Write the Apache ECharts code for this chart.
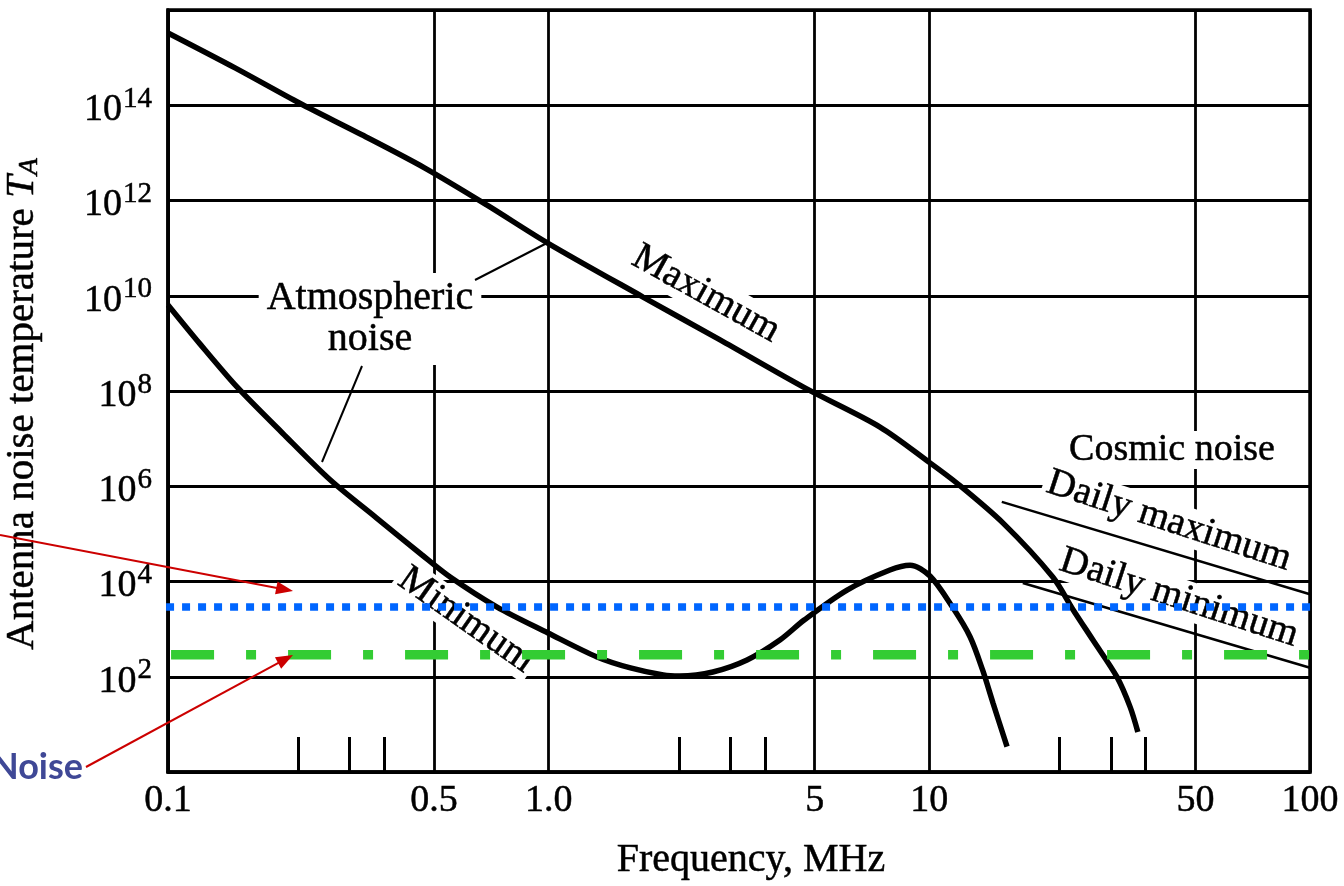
<!DOCTYPE html>
<html><head><meta charset="utf-8">
<script src="https://cdn.jsdelivr.net/npm/echarts@6/dist/echarts.min.js"></script>
<style>html,body{margin:0;padding:0;background:#fff}#c{width:1344px;height:886px}</style>
</head><body><div id="c"></div>
<script>
// ---- axis ticks ----
const xTickValues = [0.1, 0.5, 1, 5, 10, 50, 100];
const xTickLabels = ['0.1', '0.5', '1.0', '5', '10', '50', '100'];
const xMinorTicks = [0.22, 0.3, 0.37, 2.2, 3, 3.7, 22, 30, 37];
const yGridValues = [1, 1e2, 1e4, 1e6, 1e8, 1e10, 1e12, 1e14, 1e16];
const yLabelValues = [1e2, 1e4, 1e6, 1e8, 1e10, 1e12, 1e14];

// ---- atmospheric noise, maximum ----
const atmMaxFreq = [0.1, 0.150, 0.222, 0.323, 0.473, 0.689, 0.994, 1.77, 2.82, 4.71, 7.42, 10.04, 11.8, 15.6, 21.1, 23.9, 26.9, 31.1, 33.7, 35.3];
const atmMaxTemp = [3.3e15, 6.1e14, 1.1e14, 2.4e13, 4.8e12, 8.0e11, 1.28e11, 9.4e9, 1.18e9, 1.16e8, 1.75e7, 3.1e6, 1.17e6, 1.7e5, 1.24e4, 2.5e3, 590, 99, 23, 6.9];

// ---- atmospheric noise, minimum ----
const atmMinFreq = [0.1, 0.121, 0.152, 0.200, 0.267, 0.352, 0.465, 0.551, 0.732, 0.996, 1.34, 1.64, 2.0, 2.21, 2.70, 3.32, 4.05, 4.69, 6.08, 7.88, 8.9, 10.04, 11.5, 12.8, 13.8, 14.7, 16.0];
const atmMinTemp = [6.4e9, 1.0e9, 1.2e8, 1.3e7, 1.35e6, 2.2e5, 3.6e4, 1.24e4, 2.9e3, 830, 260, 153, 109, 104, 126, 225, 590, 1.55e3, 6.6e3, 1.74e4, 2.2e4, 1.3e4, 2.9e3, 684, 139, 28, 3.4];

// ---- cosmic noise ----
const cosmicMaxFreq = [15.5, 100];
const cosmicMaxTemp = [4.7e5, 5.4e3];
const cosmicMinFreq = [17.6, 100];
const cosmicMinTemp = [9.3e3, 155];

// ---- reference levels (overlays) ----
const blueFreq = [0.0502, 122.8];
const blueTemp = [2900, 2900];
const greenFreq = [0.0502, 101.8];
const greenTemp = [290, 290];

const pairs = (xs, ys) => xs.map((x, i) => [x, ys[i]]);
const SERIF = '"Liberation Serif", "Times New Roman", serif';
const INK = { textBorderColor: '#000', textBorderWidth: 0.5 };

function arrow(x1, y1, x2, y2, color) {
  const dx = x2 - x1, dy = y2 - y1, L = Math.hypot(dx, dy);
  const ux = dx / L, uy = dy / L, hl = 17, hw = 6.5;
  const bx = x2 - ux * hl, by = y2 - uy * hl;
  return [
    { type: 'line', z: 20, silent: true, shape: { x1, y1, x2: bx + ux * 2, y2: by + uy * 2 }, style: { stroke: color, lineWidth: 2 } },
    { type: 'polygon', z: 20, silent: true, shape: { points: [[x2, y2], [bx - uy * hw, by + ux * hw], [bx + uy * hw, by - ux * hw]] }, style: { fill: color } }
  ];
}
function label(text, x, y, rotDeg, size) {
  return {
    type: 'text', x, y, rotation: rotDeg * Math.PI / 180, z: 1, silent: true,
    style: Object.assign({
      text, font: (size || 38) + 'px ' + SERIF, fill: '#000',
      align: 'center', verticalAlign: 'middle', textAlign: 'center', textVerticalAlign: 'middle',
      backgroundColor: '#fff', padding: [0, 4]
    }, { stroke: '#000', lineWidth: 0.5 })
  };
}
function leader(x1, y1, x2, y2) {
  return { type: 'line', z: 1, silent: true, shape: { x1, y1, x2, y2 }, style: { stroke: '#000', lineWidth: 2 } };
}

const chart = echarts.init(document.getElementById('c'));
const nearestLabel = v => {
  let best = 0, bd = Infinity;
  xTickValues.forEach((t, i) => { const d = Math.abs(Math.log10(t) - Math.log10(v)); if (d < bd) { bd = d; best = i; } });
  return xTickLabels[best];
};

const atmText = label('Atmospheric\nnoise', 370, 319, 0, 40);
atmText.style.lineHeight = 41;
atmText.style.padding = [2, 8, 8, 8];

chart.setOption({
  animation: false,
  backgroundColor: '#fff',
  grid: { left: 168, right: 34, top: 10, bottom: 114, containLabel: false, outerBoundsMode: 'none', show: true, borderColor: '#000', borderWidth: 3.5, backgroundColor: 'transparent' },
  xAxis: [{
    type: 'log', min: 0.1, max: 100, position: 'bottom',
    name: 'Frequency, MHz', nameLocation: 'middle', nameGap: 68,
    nameTextStyle: Object.assign({ fontFamily: SERIF, fontSize: 40, color: '#000', padding: [0, 0, 0, 24] }, INK),
    axisLine: { show: true, lineStyle: { color: '#000', width: 3.5 } },
    axisTick: { show: false, customValues: xTickValues },
    axisLabel: Object.assign({ customValues: xTickValues, formatter: nearestLabel, fontFamily: SERIF, fontSize: 38, color: '#000', margin: 10 }, INK),
    splitLine: { show: true, lineStyle: { color: '#000', width: 2.8 } },
    minorTick: { show: false }, minorSplitLine: { show: false }
  }, {
    type: 'log', min: 0.1, max: 100, position: 'bottom',
    axisLine: { show: false },
    axisTick: { show: true, inside: true, length: 35, customValues: xMinorTicks, lineStyle: { color: '#000', width: 3 } },
    axisLabel: { show: false },
    splitLine: { show: false }
  }],
  yAxis: {
    type: 'log', min: 1, max: 1e16,
    name: '{a|Antenna noise temperature }{t|T}{s|A}', nameLocation: 'middle', nameGap: 124,
    nameTextStyle: {
      color: '#000', padding: [0, 26, 0, 0],
      rich: {
        a: Object.assign({ fontFamily: SERIF, fontSize: 41, color: '#000' }, INK),
        t: Object.assign({ fontFamily: SERIF, fontSize: 41, fontStyle: 'italic', color: '#000' }, INK),
        s: Object.assign({ fontFamily: SERIF, fontSize: 28, fontStyle: 'italic', color: '#000', padding: [15, 0, 0, 0] }, INK)
      }
    },
    axisLine: { show: true, lineStyle: { color: '#000', width: 3.5 } },
    axisTick: { show: false, customValues: yGridValues },
    axisLabel: {
      customValues: yLabelValues, margin: 16, padding: [10, 0, 0, 0],
      formatter: v => '{b|10}{s|' + Math.round(Math.log10(v)) + '}',
      rich: {
        b: Object.assign({ fontFamily: SERIF, fontSize: 38, color: '#000', lineHeight: 44 }, INK),
        s: Object.assign({ fontFamily: SERIF, fontSize: 29, color: '#000', padding: [0, 0, 22, 1] }, INK)
      }
    },
    splitLine: { show: true, lineStyle: { color: '#000', width: 2.8 } },
    minorTick: { show: false }, minorSplitLine: { show: false }
  },
  series: [
    { name: 'Atmospheric noise maximum', type: 'line', data: pairs(atmMaxFreq, atmMaxTemp), smooth: 0.3, symbol: 'none', z: 3, lineStyle: { color: '#000', width: 5.5 } },
    { name: 'Atmospheric noise minimum', type: 'line', data: pairs(atmMinFreq, atmMinTemp), smooth: 0.3, symbol: 'none', z: 3, lineStyle: { color: '#000', width: 5.5 } },
    { name: 'Cosmic noise daily maximum', type: 'line', data: pairs(cosmicMaxFreq, cosmicMaxTemp), symbol: 'none', z: 3, lineStyle: { color: '#000', width: 2.5 } },
    { name: 'Cosmic noise daily minimum', type: 'line', data: pairs(cosmicMinFreq, cosmicMinTemp), symbol: 'none', z: 3, lineStyle: { color: '#000', width: 2.5 } },
    { name: 'Blue level', type: 'line', data: pairs(blueFreq, blueTemp), clip: false, symbol: 'none', z: 6, lineStyle: { color: '#0066ff', width: 7.5, type: [8, 8], cap: 'butt' } },
    { name: 'Green level', type: 'line', data: pairs(greenFreq, greenTemp), clip: false, symbol: 'none', z: 6, lineStyle: { color: '#33cc33', width: 9.5, type: [43, 32, 10, 32], cap: 'butt' } }
  ],
  graphic: [
    atmText,
    leader(475, 280, 547, 243),
    leader(362, 366, 322, 462),
    label('Maximum', 706, 294, -29, 39),
    label('Minimum', 466, 620, -35, 39),
    label('Cosmic noise', 1172, 450, 0, 38),
    label('Daily maximum', 1169, 521, -18, 39),
    label('Daily minimum', 1179, 598, -18, 39),
    ...arrow(0, 535, 293, 591, '#cc0000'),
    ...arrow(86, 767, 293, 655, '#cc0000'),
    { type: 'text', x: 83, y: 767, z: 20, silent: true, style: { text: 'Noise', font: 'bold 36px Lato, "Open Sans", sans-serif', fill: '#3f4896', align: 'right', verticalAlign: 'middle', textAlign: 'right', textVerticalAlign: 'middle' } }
  ]
});
</script>
</body></html>
